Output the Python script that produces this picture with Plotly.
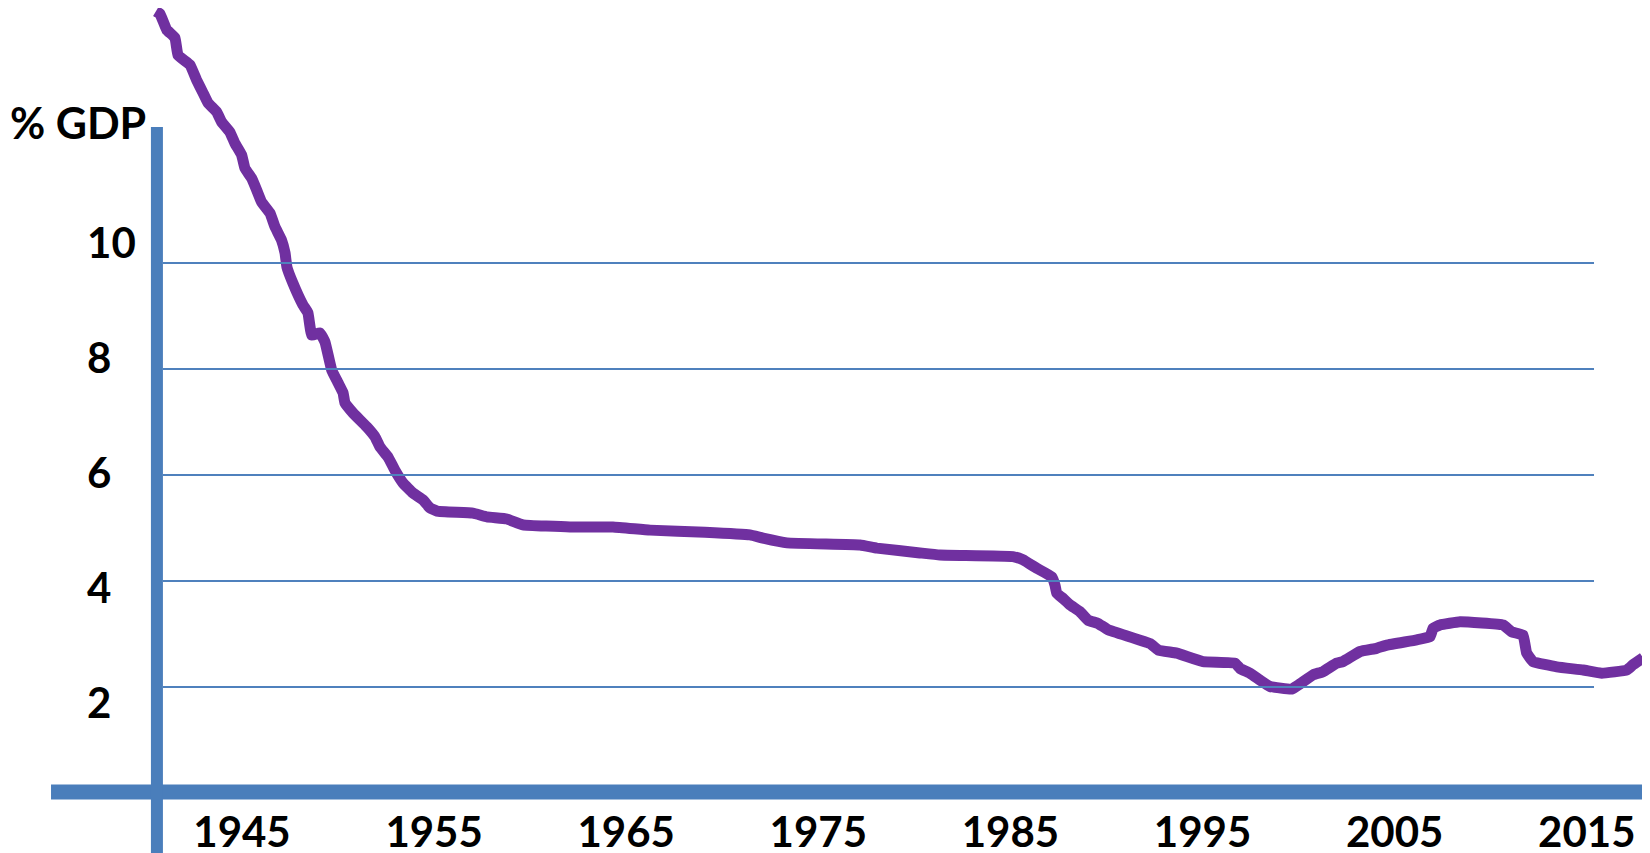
import plotly.graph_objects as go

# ---- data ----
years = [1940.52, 1940.73, 1941.08, 1941.51, 1941.67, 1942.29, 1942.64, 1942.97, 1943.23, 1943.68,
         1943.94, 1944.37, 1944.63, 1944.98, 1945.15, 1945.50, 1945.76, 1946.02, 1946.46, 1946.72,
         1947.06, 1947.24, 1947.34, 1947.65, 1948.17, 1948.43, 1948.63, 1949.06, 1949.32, 1949.67,
         1950.00, 1950.26, 1950.36, 1950.78, 1951.49, 1951.92, 1952.18, 1952.60, 1952.96, 1953.38,
         1953.90, 1954.42, 1954.78, 1955.15, 1957.02, 1957.75, 1958.79, 1959.63, 1962.07, 1964.31,
         1966.24, 1969.10, 1971.44, 1972.12, 1973.37, 1977.17, 1978.05, 1980.29, 1981.33, 1985.13,
         1985.65, 1986.37, 1987.15, 1987.32, 1987.41, 1987.74, 1988.10, 1988.62, 1989.04, 1989.56,
         1990.08, 1992.27, 1992.68, 1993.66, 1995.02, 1996.69, 1996.95, 1997.47, 1997.99, 1998.51,
         1999.64, 2000.07, 2000.75, 2001.27, 2001.98, 2002.31, 2003.20, 2004.06, 2004.59, 2006.15,
         2006.84, 2007.00, 2007.36, 2008.40, 2010.64, 2011.09, 2011.68, 2011.87, 2012.20, 2013.44,
         2014.81, 2015.78, 2017.08, 2017.41, 2017.93]
pct_gdp = [14.75, 14.70, 14.40, 14.25, 13.92, 13.74, 13.45, 13.21, 13.02, 12.85,
           12.66, 12.47, 12.26, 12.04, 11.79, 11.60, 11.38, 11.15, 10.94, 10.68,
           10.43, 10.19, 9.92, 9.62, 9.21, 9.06, 8.64, 8.68, 8.51, 7.98,
           7.74, 7.55, 7.36, 7.17, 6.91, 6.72, 6.53, 6.34, 6.09, 5.85,
           5.66, 5.53, 5.38, 5.32, 5.28, 5.21, 5.17, 5.06, 5.02, 5.02,
           4.96, 4.92, 4.87, 4.81, 4.72, 4.68, 4.62, 4.53, 4.49, 4.46,
           4.40, 4.24, 4.08, 3.92, 3.77, 3.67, 3.55, 3.42, 3.26, 3.20,
           3.08, 2.82, 2.70, 2.64, 2.48, 2.45, 2.35, 2.26, 2.13, 2.01,
           1.96, 2.06, 2.23, 2.29, 2.45, 2.48, 2.67, 2.73, 2.79, 2.89,
           2.95, 3.11, 3.17, 3.23, 3.17, 3.04, 2.98, 2.64, 2.48, 2.38,
           2.32, 2.26, 2.32, 2.42, 2.55]

x_tick_years = [1945, 1955, 1965, 1975, 1985, 1995, 2005, 2015]
y_tick_values = [2, 4, 6, 8, 10]
grid_values = [2, 4, 6, 8, 10]
y_title = "% GDP"

# ---- styling ----
PURPLE = "#7030a0"
AXIS_BLUE = "#4a7ebb"
GRID_BLUE = "#4f81bd"
FONT = dict(family="Lato, 'Open Sans', sans-serif", size=42, color="black", weight="bold")
TITLE_FONT = dict(family="Lato, 'Open Sans', sans-serif", size=43, color="black", weight="bold")

# the page body adds an 8px margin, so the figure is 8px smaller than the window
W, H = 1642, 845

fig = go.Figure()
fig.add_trace(go.Scatter(x=years, y=pct_gdp, mode="lines",
                         line=dict(color=PURPLE, width=11, shape="spline", smoothing=0.3),
                         hoverinfo="x+y", showlegend=False))
# invisible companion trace so the label axis is created
fig.add_trace(go.Scatter(x=[None], y=[None], yaxis="y2", showlegend=False, hoverinfo="skip"))

shapes = []
for g in grid_values:
    shapes.append(dict(type="line", xref="paper", yref="y", x0=0.0944, x1=0.9659, y0=g, y1=g,
                       line=dict(color=GRID_BLUE, width=1.8), layer="above"))
# horizontal axis bar at zero
shapes.append(dict(type="line", xref="paper", yref="y", x0=0.0262, x1=1.0, y0=0.02, y1=0.02,
                   line=dict(color=AXIS_BLUE, width=15), layer="above"))
# vertical axis bar
shapes.append(dict(type="line", xref="paper", yref="paper", x0=0.0907, x1=0.0907, y0=-0.02, y1=0.8592,
                   line=dict(color=AXIS_BLUE, width=12), layer="above"))

fig.update_layout(
    width=W, height=H,
    margin=dict(l=0, r=0, t=0, b=0),
    template="none",
    paper_bgcolor="white", plot_bgcolor="white",
    showlegend=False,
    shapes=shapes,
    xaxis=dict(range=[1932.82, 2018.29], tickvals=x_tick_years,
               ticktext=[str(v) for v in x_tick_years],
               showgrid=False, zeroline=False, showline=False, ticks="",
               tickfont=FONT, anchor="free", position=0.058, automargin=False),
    yaxis=dict(range=[-1.132, 14.811], showgrid=False, zeroline=False, showline=False,
               showticklabels=False, ticks="", automargin=False),
    yaxis2=dict(overlaying="y", range=[-0.609, 14.087], tickvals=y_tick_values,
                ticktext=[str(v) for v in y_tick_values],
                showgrid=False, zeroline=False, showline=False, ticks="",
                tickfont=FONT, anchor="free", position=0.0457, side="left",
                ticklabelposition="inside", automargin=False),
    annotations=[dict(text=y_title, xref="paper", yref="paper", x=0.0, y=0.8645,
                      xanchor="left", yanchor="middle", showarrow=False, font=TITLE_FONT)],
)

fig.write_html("out.html")
